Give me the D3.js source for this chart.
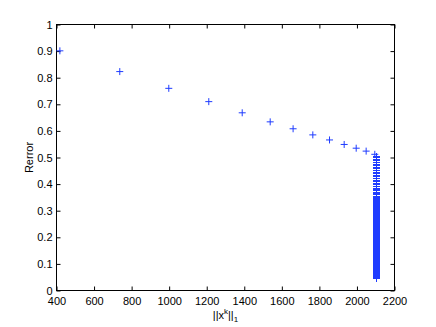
<!DOCTYPE html>
<head>
  <meta charset="utf-8">
  <script src="https://d3js.org/d3.v7.min.js"></script>
  <style>
    body { margin:0; background:#fff; }
    text { font-family: "Liberation Sans", Arial, sans-serif; font-size: 11px; fill: #000; }
  </style>
</head>
<body>
  <script>
    // iterates: l1 norm of x^k vs relative error
    var normX = [418, 737, 998, 1211, 1389, 1538, 1660, 1765, 1854, 1932, 1996, 2049, 2095];
    var rerror = [0.901, 0.823, 0.760, 0.710, 0.668, 0.634, 0.608, 0.585, 0.566, 0.549, 0.535, 0.524, 0.512];
    // last iterations pile up near the same norm
    var tailX = 2104;
    var tailErr = [0.505, 0.499, 0.493, 0.487, 0.481, 0.475, 0.469, 0.463, 0.457, 0.451, 0.445, 0.439,
      0.433, 0.427, 0.421, 0.415, 0.409, 0.403, 0.397, 0.391, 0.385, 0.380, 0.375, 0.370, 0.365, 0.360,
      0.355, 0.350, 0.3465, 0.343, 0.3395, 0.336, 0.3325, 0.329, 0.3255, 0.322, 0.3185, 0.315, 0.3115,
      0.308, 0.3045, 0.301, 0.2975, 0.294, 0.2905, 0.287, 0.2835, 0.280, 0.2765, 0.273, 0.2695, 0.266,
      0.2625, 0.259, 0.2555, 0.252, 0.2485, 0.245, 0.2415, 0.238, 0.2345, 0.231, 0.2275, 0.224, 0.2205,
      0.217, 0.2135, 0.210, 0.2065, 0.203, 0.1995, 0.196, 0.1925, 0.189, 0.1855, 0.182, 0.1785, 0.175,
      0.1715, 0.168, 0.1645, 0.161, 0.1575, 0.154, 0.1505, 0.147, 0.1435, 0.140, 0.1365, 0.133, 0.1295,
      0.126, 0.1225, 0.119, 0.1155, 0.112, 0.1085, 0.105, 0.1015, 0.098, 0.0945, 0.091, 0.0875, 0.084,
      0.0805, 0.077, 0.0735, 0.070, 0.0665, 0.063, 0.0595, 0.056, 0.0525, 0.049, 0.045];
    var xTicks = [400, 600, 800, 1000, 1200, 1400, 1600, 1800, 2000, 2200];
    var yTicks = [0, 0.1, 0.2, 0.3, 0.4, 0.5, 0.6, 0.7, 0.8, 0.9, 1];

    var width = 436, height = 327;
    var margin = {top: 24.5, right: 41.5, bottom: 36.5, left: 56.5};

    var svg = d3.select("body").append("svg")
      .attr("width", width)
      .attr("height", height);

    var x = d3.scaleLinear().domain([400, 2200]).range([margin.left, width - margin.right]);
    var y = d3.scaleLinear().domain([0, 1]).range([height - margin.bottom, margin.top]);

    var tick = 4;

    // axes, MATLAB style: ticks inside, box all round
    svg.append("g")
      .attr("transform", "translate(0," + y(0) + ")")
      .call(d3.axisBottom(x).tickValues(xTicks).tickSize(-tick).tickPadding(7).tickFormat(d3.format("d")))
      .call(function(g) { g.select(".domain").remove(); });
    svg.append("g")
      .attr("transform", "translate(0," + y(1) + ")")
      .call(d3.axisTop(x).tickValues(xTicks).tickSize(-tick).tickFormat(""))
      .call(function(g) { g.select(".domain").remove(); });
    svg.append("g")
      .attr("transform", "translate(" + x(400) + ",0)")
      .call(d3.axisLeft(y).tickValues(yTicks).tickSize(-tick).tickPadding(4).tickFormat(d3.format("~g")))
      .call(function(g) { g.select(".domain").remove(); });
    svg.append("g")
      .attr("transform", "translate(" + x(2200) + ",0)")
      .call(d3.axisRight(y).tickValues(yTicks).tickSize(-tick).tickFormat(""))
      .call(function(g) { g.select(".domain").remove(); });

    svg.selectAll(".tick text").attr("font-size", 11).attr("font-family", "Liberation Sans, Arial, sans-serif");
    svg.selectAll(".tick line").attr("stroke", "#000");

    svg.append("rect")
      .attr("x", x(400)).attr("y", y(1))
      .attr("width", x(2200) - x(400)).attr("height", y(0) - y(1))
      .attr("fill", "none").attr("stroke", "#000").attr("stroke-width", 1);

    var s = 3.5;
    function plus(d) {
      var cx = x(d[0]), cy = y(d[1]);
      return "M" + (cx - s) + "," + cy + "H" + (cx + s) + "M" + cx + "," + (cy - s) + "V" + (cy + s);
    }

    svg.append("g")
      .attr("stroke", "#1f3cff")
      .attr("stroke-width", 1)
      .selectAll("path")
      .data(normX.map(function(v, i) { return [v, rerror[i]]; }))
      .enter()
      .append("path")
      .attr("d", plus);

    svg.append("g")
      .attr("stroke", "#1f3cff")
      .attr("stroke-width", 1)
      .attr("shape-rendering", "crispEdges")
      .selectAll("path")
      .data(tailErr.map(function(e) { return [tailX, e]; }))
      .enter()
      .append("path")
      .attr("d", plus);

    // labels
    svg.append("text")
      .attr("transform", "translate(33," + ((y(0) + y(1)) / 2) + ") rotate(-90)")
      .attr("text-anchor", "middle")
      .text("Rerror");

    var xl = svg.append("text")
      .attr("x", (x(400) + x(2200)) / 2)
      .attr("y", 319)
      .attr("text-anchor", "middle");
    xl.append("tspan").text("||x");
    xl.append("tspan").attr("dy", -5).attr("font-size", 8).text("k");
    xl.append("tspan").attr("dy", 5).text("||");
    xl.append("tspan").attr("dy", 3).attr("font-size", 8).text("1");
  </script>
</body>
